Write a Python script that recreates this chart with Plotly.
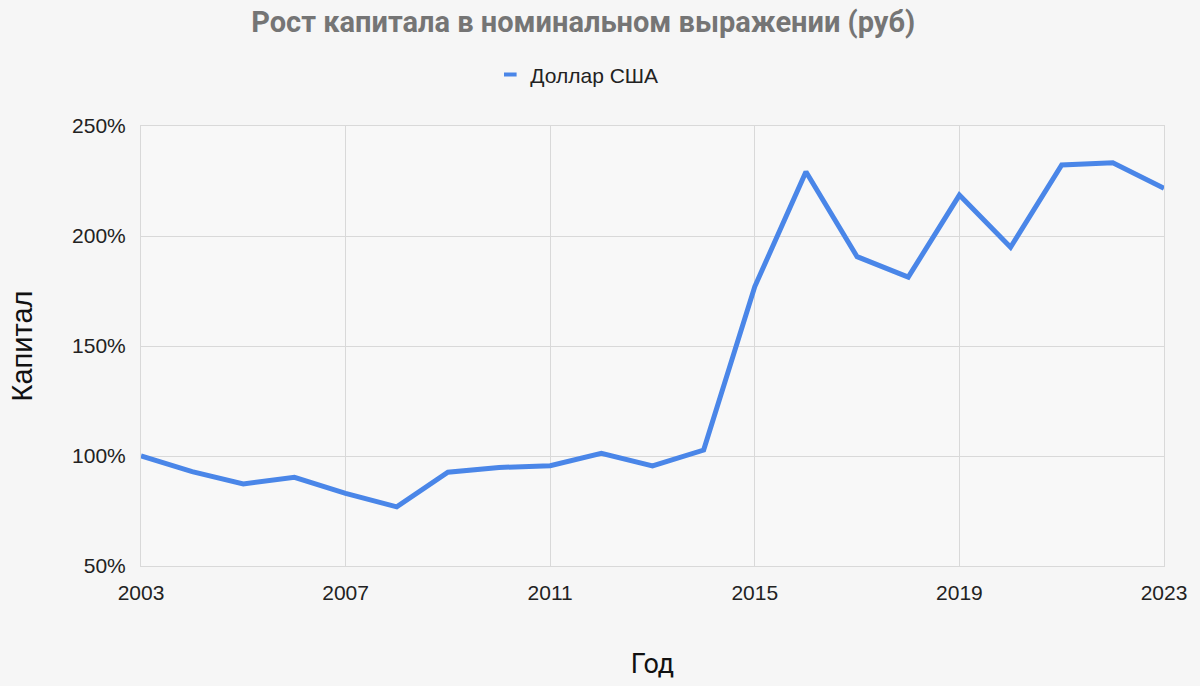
import plotly.graph_objects as go

years = list(range(2003, 2024))
usd_capital = [100, 92.9, 87.3, 90.3, 83.0, 76.9, 92.6, 94.8, 95.6, 101.2, 95.5,
               102.7, 177.0, 229.2, 190.6, 181.3, 218.6, 194.9, 232.3, 233.3, 221.7]
series_name = "Доллар США"
x_ticks = [2003, 2007, 2011, 2015, 2019, 2023]
y_ticks = [50, 100, 150, 200, 250]
y_tick_labels = ["50%", "100%", "150%", "200%", "250%"]

BLUE = "#4a86e8"

fig = go.Figure()
fig.add_trace(go.Scatter(
    x=years, y=usd_capital, mode="lines", name=series_name,
    line=dict(color=BLUE, width=5), showlegend=False, legendgroup="usd",
))
# legend entry with a short dash symbol, like the reference legend
fig.add_trace(go.Scatter(
    x=[None], y=[None], mode="markers", name=series_name, legendgroup="usd",
    marker=dict(symbol="line-ew-open", size=9, color=BLUE, line=dict(color=BLUE, width=4)),
))

fig.update_layout(
    width=1200, height=686,
    paper_bgcolor="#f6f6f6", plot_bgcolor="#f8f8f8",
    margin=dict(l=141, r=36, t=126, b=120),
    title=dict(text="<b>Рост капитала в номинальном выражении (руб)</b>",
               x=0.486, xanchor="center", y=0.968, yanchor="middle",
               font=dict(family="Roboto, Arial, sans-serif", size=29, color="#757575")),
    legend=dict(orientation="h", x=0.426, xanchor="center", y=1.116, yanchor="middle",
                font=dict(family="Liberation Sans, Arial, sans-serif", size=21, color="#222222"),
                itemwidth=30, bgcolor="rgba(0,0,0,0)"),
    showlegend=True,
    font=dict(family="Liberation Sans, Arial, sans-serif", color="#222222"),
)

fig.update_xaxes(
    range=[2003, 2023], tickvals=x_ticks, ticktext=[str(t) for t in x_ticks],
    showgrid=True, gridcolor="#d9d9d9", gridwidth=1,
    showline=True, linecolor="#d9d9d9", mirror=True, zeroline=False,
    ticks="outside", ticklen=8, tickcolor="rgba(0,0,0,0)",
    tickfont=dict(size=21, color="#222222"),
    title=dict(text="Год", standoff=50,
               font=dict(family="Roboto, Arial, sans-serif", size=27, color="#111111")),
)
fig.update_yaxes(
    range=[50, 250], tickvals=y_ticks, ticktext=y_tick_labels,
    showgrid=True, gridcolor="#d9d9d9", gridwidth=1,
    showline=True, linecolor="#d9d9d9", mirror=True, zeroline=False,
    ticks="outside", ticklen=10, tickcolor="rgba(0,0,0,0)",
    tickfont=dict(size=21, color="#222222"),
    title=dict(text="Капитал", standoff=30,
               font=dict(family="Liberation Sans, Arial, sans-serif", size=29, color="#111111")),
)

fig.write_html("out.html", config={"displayModeBar": False},
               post_script="document.body.style.margin='0';")
